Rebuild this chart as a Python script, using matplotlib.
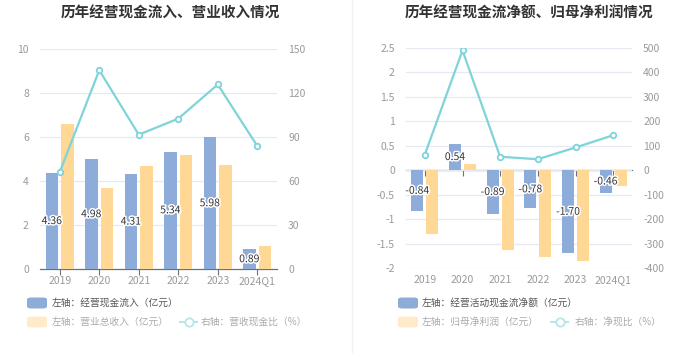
import matplotlib
matplotlib.use("Agg")
import matplotlib.pyplot as plt
import matplotlib.patheffects as pe
from matplotlib.patches import FancyBboxPatch
from matplotlib.lines import Line2D
import numpy as np

plt.rcParams["font.family"] = ["Noto Sans CJK SC", "DejaVu Sans"]
plt.rcParams["axes.unicode_minus"] = False

years = ["2019", "2020", "2021", "2022", "2023", "2024Q1"]

# left panel
cash_in = [4.36, 4.98, 4.31, 5.34, 5.98, 0.89]
revenue = [6.59, 3.67, 4.70, 5.20, 4.74, 1.06]
cash_ratio = [66.1, 135.5, 91.6, 102.5, 125.8, 83.9]

# right panel
net_cash = [-0.84, 0.54, -0.89, -0.78, -1.70, -0.46]
net_profit = [-1.31, 0.12, -1.64, -1.77, -1.85, -0.33]
net_ratio = [64, 490, 55, 45, 93, 143]

BLUE = "#8DACDA"
YELLOW = "#FFD895"
TEAL = "#7ED4D9"
GRID = "#E6E9F1"
TICK = "#9A9A9A"

fig = plt.figure(figsize=(7, 3.6), dpi=100)
W, H = 700, 360


def ax_rect(x0, y0, x1, y1):
    return [x0 / W, 1 - y1 / H, (x1 - x0) / W, (y1 - y0) / H]


def panel(rect, bars1, bars2, line, ylim, yticks, ylabels, y2lim, y2ticks, zero_frac):
    x = np.arange(len(years))
    ax = fig.add_axes(rect)
    ax.bar(x - 0.2, bars1, width=0.32, color=BLUE, zorder=2)
    ax.bar(x + 0.2, bars2, width=0.32, color=YELLOW, zorder=2)
    ax.set_xlim(-0.5, len(years) - 0.5)
    ax.set_ylim(*ylim)
    ax.set_yticks(yticks, labels=ylabels)
    ax.grid(axis="y", color=GRID, lw=0.9, zorder=0)
    for s in ["left", "right", "top", "bottom"]:
        ax.spines[s].set_visible(False)
    ax.tick_params(axis="y", length=0, labelsize=7.5, labelcolor=TICK, pad=8)
    ax.set_xticks(x, labels=years)
    ax.tick_params(axis="x", length=0, labelsize=7.5, labelcolor=TICK, pad=5)
    # axis line at zero with ticks
    sec = ax.secondary_xaxis(zero_frac)
    sec.set_xticks(x, labels=[""] * len(x))
    sec.tick_params(axis="x", length=4, color="#6E7079", width=0.8)
    sec.spines["bottom"].set_color("#6E7079")
    sec.spines["bottom"].set_linewidth(0.9)
    for xi, v in zip(x, bars1):
        ax.text(xi - 0.2, v / 2, f"{v:.2f}", ha="center", va="center", fontsize=7.5,
                color="#333333", zorder=5,
                path_effects=[pe.withStroke(linewidth=2.2, foreground="white")])
    ax2 = ax.twinx()
    ax2.plot(x, line, color=TEAL, lw=1.6, marker="o", ms=4, mfc="white",
             mec=TEAL, mew=1.3, zorder=3)
    ax2.set_ylim(*y2lim)
    ax2.set_yticks(y2ticks)
    for s in ["left", "right", "top", "bottom"]:
        ax2.spines[s].set_visible(False)
    ax2.tick_params(axis="y", length=0, labelsize=7.5, labelcolor=TICK, pad=8)
    return ax, ax2


lt = np.arange(0, 11, 2)
panel(ax_rect(40, 49, 277, 269), cash_in, revenue, cash_ratio,
      (0, 10), lt, [str(v) for v in lt], (0, 150), np.arange(0, 151, 30), 0.0)

rt = [-2, -1.5, -1, -0.5, 0, 0.5, 1, 1.5, 2, 2.5]
rl = ["-2", "-1.5", "-1", "-0.5", "0", "0.5", "1", "1.5", "2", "2.5"]
panel(ax_rect(406, 48, 632, 268), net_cash, net_profit, net_ratio,
      (-2, 2.5), rt, rl, (-400, 500), np.arange(-400, 501, 100), 2 / 4.5)

fig.text(170 / W, 1 - 13 / H, "历年经营现金流入、营业收入情况", ha="center", va="center",
         fontsize=10.5, fontweight="bold", color="#333333")
fig.text(529 / W, 1 - 13 / H, "历年经营现金流净额、归母净利润情况", ha="center", va="center",
         fontsize=10.5, fontweight="bold", color="#333333")

# divider
fig.add_artist(Line2D([352 / W, 352 / W], [1, 1 - 352 / H], color="#F0F0F0", lw=1))


def swatch(x, y, color):
    fig.add_artist(FancyBboxPatch((x / W, 1 - (y + 5.5) / H), 20 / W, 11 / H,
                                  boxstyle="round,pad=0,rounding_size=0.006",
                                  fc=color, ec="none", transform=fig.transFigure))


def line_sym(x, y):
    fig.add_artist(Line2D([x / W, (x + 17) / W], [1 - y / H, 1 - y / H],
                          color="#B5E6E9", lw=1.4))
    fig.add_artist(Line2D([(x + 8.5) / W], [1 - y / H], lw=0, marker="o", ms=6,
                          mfc="white", mec="#B5E6E9", mew=1.3))


def label(x, y, s, color):
    fig.text(x / W, 1 - y / H, s, ha="left", va="center", fontsize=7, color=color)


swatch(27, 303, BLUE)
label(52, 303, "左轴：经营现金流入（亿元）", "#555555")
swatch(27, 322, "#FFEBC9")
label(52, 322, "左轴：营业总收入（亿元）", "#AAAAAA")
line_sym(180, 322)
label(201, 322, "右轴：营收现金比（%）", "#AAAAAA")

swatch(398, 303, BLUE)
label(422, 303, "左轴：经营活动现金流净额（亿元）", "#555555")
swatch(398, 322, "#FFEBC9")
label(422, 322, "左轴：归母净利润（亿元）", "#AAAAAA")
line_sym(551, 322)
label(575, 322, "右轴：净现比（%）", "#AAAAAA")

fig.savefig("out.png", dpi=100, facecolor="white")
